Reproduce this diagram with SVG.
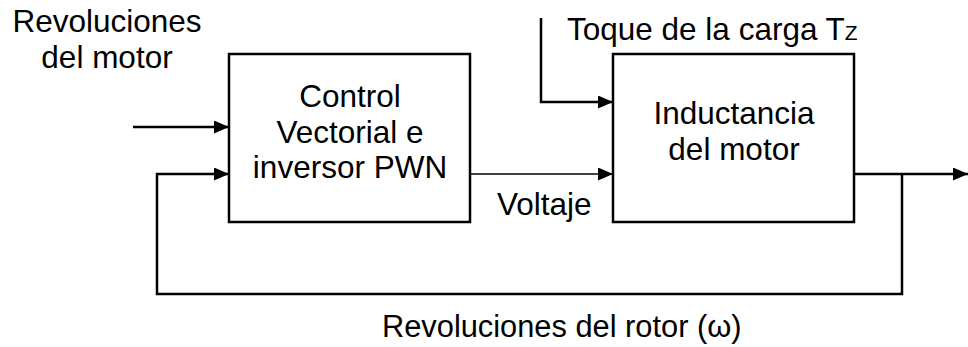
<svg xmlns="http://www.w3.org/2000/svg" width="968" height="347" viewBox="0 0 968 347">
<style>
text { font-family: "Liberation Sans", Arial, sans-serif; font-size: 31.5px; fill: #000; }
.mid { text-anchor: middle; }
.small { font-size: 30.8px; }
.box { fill: #fff; stroke: #000; stroke-width: 2.5; }
.wire { fill: none; stroke: #000; stroke-width: 2.5; }
.thin { fill: none; stroke: #000; stroke-width: 1.5; }
</style>
<defs>
<marker id="arr" markerUnits="userSpaceOnUse" markerWidth="16" markerHeight="14" refX="15" refY="6.5" orient="auto">
<path d="M0,0 L15,6.5 L0,13 z" fill="#000"/>
</marker>
</defs>
<rect width="968" height="347" fill="#fff"/>
<g id="connectors">
<line class="wire" x1="133" y1="127" x2="229" y2="127" marker-end="url(#arr)"/>
<polyline class="wire" points="902,174 902,294 157,294 157,174 229,174" marker-end="url(#arr)"/>
<line class="thin" x1="470" y1="174" x2="613" y2="174" marker-end="url(#arr)"/>
<polyline class="wire" points="541,18 541,102 613,102" marker-end="url(#arr)"/>
<line class="wire" x1="854" y1="174" x2="968" y2="174" marker-end="url(#arr)"/>
</g>
<g id="control">
<rect class="box" x="229" y="54" width="241" height="168"/>
<text class="mid" x="350" y="107">Control</text>
<text class="mid" x="350" y="143">Vectorial e</text>
<text class="mid" x="350" y="178">inversor PWN</text>
</g>
<g id="motor">
<rect class="box" x="613" y="54" width="241" height="168"/>
<text class="mid" x="734" y="123.5">Inductancia</text>
<text class="mid" x="734" y="160">del motor</text>
</g>
<g id="labels">
<text class="mid" x="107" y="32">Revoluciones</text>
<text class="mid" x="107" y="68">del motor</text>
<text x="567" y="40">Toque de la carga T<tspan font-size="21">Z</tspan></text>
<text x="497" y="215">Voltaje</text>
<text class="small" x="382" y="337">Revoluciones del rotor (ω)</text>
</g>
</svg>
